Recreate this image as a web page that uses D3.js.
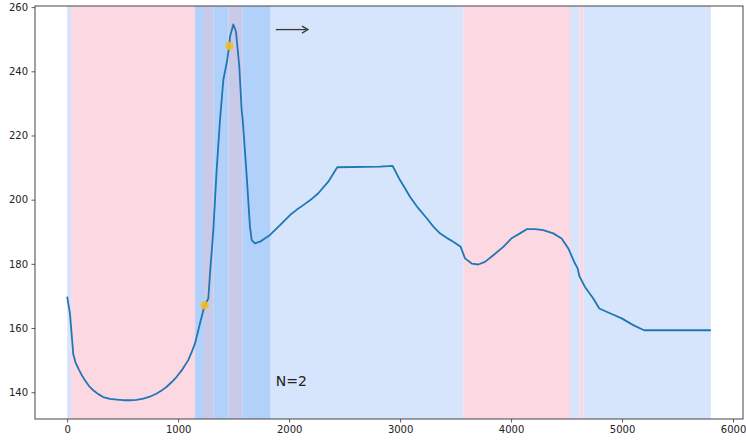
<!DOCTYPE html>
<html>
<head>
<meta charset="utf-8">
<script src="https://cdn.jsdelivr.net/npm/d3@7"></script>
<style>
  html, body { margin: 0; padding: 0; background: #fff; }
  svg { display: block; }
  text { font-family: "DejaVu Sans", sans-serif; }
</style>
</head>
<body>
<svg id="chart" width="746" height="443"></svg>
<script>
// Signal trace (x, value)
const traceX = [0, 25, 55, 75, 100, 130, 160, 195, 235, 280, 325, 385, 446, 505, 566, 625, 686, 745,
  807, 850, 897, 940, 987, 1040, 1091, 1120, 1152, 1197, 1239,
  1272, 1287, 1317, 1347, 1377, 1407, 1437, 1461, 1467, 1497, 1521, 1551, 1572, 1582, 1618, 1647,
  1663, 1692, 1737, 1828, 1918, 2008, 2070, 2128, 2200, 2263, 2353, 2434, 2819, 2933, 2999, 3040,
  3089, 3160, 3240, 3300, 3359, 3420, 3479, 3546, 3585, 3645, 3705, 3765, 3840, 3930, 4006, 4080,
  4141, 4216, 4290, 4380, 4456, 4516, 4576, 4600, 4615, 4666, 4741, 4795, 4891, 4997, 5101, 5198, 5800];
const traceY = [169.8, 164.5, 151.8, 149.3, 147.4, 145.4, 143.7, 142.0, 140.6, 139.4, 138.5, 137.9,
  137.7, 137.5, 137.5, 137.6, 138.0, 138.6, 139.6, 140.5, 141.7, 143.1, 144.8, 147.2, 150.0, 152.3,
  155.2, 161.5, 167.1, 169.2, 177.0, 190.5, 209.3, 224.8, 237.3, 242.5, 247.9, 250.8,
  254.6, 252.4, 241.5, 228.0, 224.8, 207.2, 191.6, 187.4, 186.4, 186.9, 189.0, 192.1, 195.2, 196.9,
  198.3, 200.1, 202.0, 205.6, 210.1, 210.3, 210.5, 206.1, 203.8, 200.9, 197.5, 194.2, 191.6, 189.5,
  188.1, 186.9, 185.3, 181.7, 180.1, 179.8, 180.6, 182.7, 185.3, 188.0, 189.5, 190.8, 190.8, 190.5,
  189.5, 187.9, 184.8, 180.1, 178.6, 176.2, 172.8, 169.2, 166.1, 164.6, 163.0, 160.9, 159.3, 159.3];

// Marked events on the trace
const markX = [1239, 1461];
const markY = [167.1, 247.9];

// Shaded intervals: start, end, kind
const bandStart = [0, 35, 1149, 1161, 1233, 1317, 1452, 1578, 1834, 3570, 4531, 4615, 4651];
const bandEnd   = [35, 1149, 1161, 1233, 1317, 1452, 1578, 1834, 3570, 4531, 4615, 4651, 5800];
const bandKind  = ["low", "pink", "overlapLight", "mid", "overlap", "mid", "overlap", "mid",
                   "low", "pink", "low", "pink", "low"];

// Axis ticks
const xTicks = [0, 1000, 2000, 3000, 4000, 5000, 6000];
const yTicks = [140, 160, 180, 200, 220, 240, 260];

const annotation = "N=2";

const bandColor = {
  low: "#d6e5fb",
  pink: "#fcd8e3",
  mid: "#b1d1fa",
  overlap: "#c9c9e9",
  overlapLight: "#c6cdee"
};

const svg = d3.select("#chart");
const plot = { left: 35, right: 743, top: 6, bottom: 419 };

const x = d3.scaleLinear().domain([-290, 6090]).range([plot.left, plot.right]);
const y = d3.scaleLinear().domain([131.65, 260.35]).range([plot.bottom, plot.top]);

// Background spans
svg.append("g")
  .selectAll("rect")
  .data(bandStart.map((s, i) => ({ s, e: bandEnd[i], k: bandKind[i] })))
  .join("rect")
  .attr("x", d => x(d.s))
  .attr("width", d => x(d.e) - x(d.s))
  .attr("y", plot.top)
  .attr("height", plot.bottom - plot.top)
  .attr("fill", d => bandColor[d.k]);

// Trace line
const pts = traceX.map((v, i) => [v, traceY[i]]);
svg.append("path")
  .datum(pts)
  .attr("fill", "none")
  .attr("stroke", "#1f77b4")
  .attr("stroke-width", 1.8)
  .attr("stroke-linejoin", "round")
  .attr("d", d3.line().x(d => x(d[0])).y(d => y(d[1])));

// Event markers
svg.append("g")
  .selectAll("circle")
  .data(markX.map((v, i) => [v, markY[i]]))
  .join("circle")
  .attr("cx", d => x(d[0]))
  .attr("cy", d => y(d[1]))
  .attr("r", 4)
  .attr("fill", "#f2be22")
  .attr("fill-opacity", 0.9);

// Direction arrow
const arrowY = 253;
const ax0 = x(1880), ax1 = x(2170);
svg.append("line")
  .attr("x1", ax0).attr("x2", ax1 - 2)
  .attr("y1", y(arrowY)).attr("y2", y(arrowY))
  .attr("stroke", "#3a3a3a").attr("stroke-width", 1.3);
svg.append("path")
  .attr("d", `M${ax1 - 6},${y(arrowY) - 3.5} L${ax1},${y(arrowY)} L${ax1 - 6},${y(arrowY) + 3.5}`)
  .attr("fill", "none")
  .attr("stroke", "#3a3a3a").attr("stroke-width", 1.3);

// Annotation text
svg.append("text")
  .attr("x", x(1880))
  .attr("y", y(141.9))
  .attr("font-size", 14)
  .attr("fill", "#222")
  .text(annotation);

// Axes
const xAxis = d3.axisBottom(x).tickValues(xTicks).tickSize(3.5).tickPadding(3.5).tickFormat(d3.format("d"));
const yAxis = d3.axisLeft(y).tickValues(yTicks).tickSize(3.5).tickPadding(3.5).tickFormat(d3.format("d"));

const gx = svg.append("g").attr("transform", `translate(0,${plot.bottom})`).call(xAxis);
const gy = svg.append("g").attr("transform", `translate(${plot.left},0)`).call(yAxis);
[gx, gy].forEach(g => {
  g.select(".domain").remove();
  g.selectAll(".tick line").attr("stroke", "#333").attr("stroke-width", 0.8);
  g.selectAll(".tick text").attr("font-size", 10).attr("fill", "#222")
    .attr("font-family", "DejaVu Sans, sans-serif");
});

// Frame
svg.append("rect")
  .attr("x", plot.left).attr("y", plot.top)
  .attr("width", plot.right - plot.left)
  .attr("height", plot.bottom - plot.top)
  .attr("fill", "none")
  .attr("stroke", "#444")
  .attr("stroke-width", 1);
</script>
</body>
</html>
